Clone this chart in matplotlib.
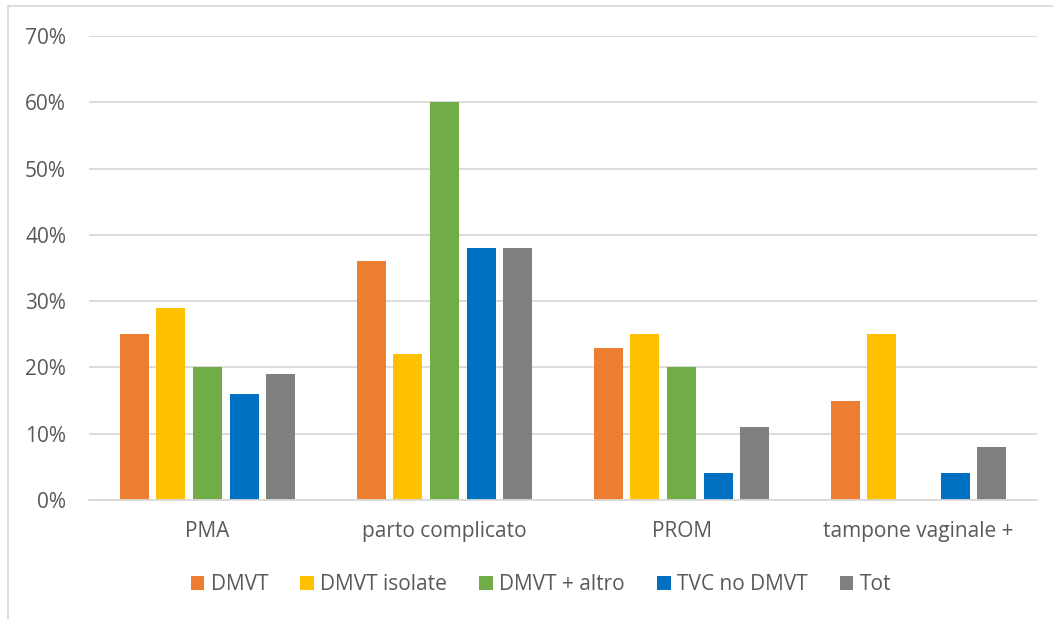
import matplotlib
matplotlib.use("Agg")
import matplotlib.pyplot as plt
from matplotlib.patches import Rectangle
import numpy as np

categories = ["PMA", "parto complicato", "PROM", "tampone vaginale +"]
series_names = ["DMVT", "DMVT isolate", "DMVT + altro", "TVC no DMVT", "Tot"]
dmvt = [25, 36, 23, 15]
dmvt_isolate = [29, 22, 25, 25]
dmvt_altro = [20, 60, 20, 0]
tvc_no_dmvt = [16, 38, 4, 4]
tot = [19, 38, 11, 8]
values = [dmvt, dmvt_isolate, dmvt_altro, tvc_no_dmvt, tot]
colors = ["#ED7D31", "#FFC000", "#70AD47", "#0070C0", "#808080"]
y_ticks = [0, 10, 20, 30, 40, 50, 60, 70]

plt.rcParams['font.family'] = ['Open Sans', 'DejaVu Sans']
text_color = "#595959"

fig = plt.figure(figsize=(10.53, 6.19), dpi=100)
ax = fig.add_axes([89 / 1053, 1 - 500 / 619, (1037 - 89) / 1053, (500 - 36) / 619])

x = np.arange(len(categories))
pitch = 0.1545
width = 0.122
for i, (name, vals, c) in enumerate(zip(series_names, values, colors)):
    offs = (i - 2) * pitch
    ax.bar(x + offs, vals, width=width, color=c, label=name, zorder=3)

ax.set_xlim(-0.5, len(categories) - 0.5)
ax.set_ylim(0, 70)
ax.set_yticks(y_ticks)
ax.set_yticklabels([f"{v}%" for v in y_ticks])
ax.set_xticks(x)
ax.set_xticklabels(categories)
ax.tick_params(axis='both', length=0, labelsize=15, colors=text_color)
ax.tick_params(axis='y', pad=16.5)
ax.tick_params(axis='x', pad=15)
ax.grid(axis='y', color="#D9D9D9", linewidth=1.3, zorder=0)
for s in ["top", "right", "left"]:
    ax.spines[s].set_visible(False)
ax.spines["bottom"].set_color("#D9D9D9")
ax.spines["bottom"].set_linewidth(1.3)
ax.spines["bottom"].set_zorder(4)

leg = ax.legend(loc="center", bbox_to_anchor=(541 / 1053, 1 - 585 / 619),
                bbox_transform=fig.transFigure, ncol=5, frameon=False,
                fontsize=15, handlelength=0.65, handleheight=0.65,
                handletextpad=0.3, columnspacing=1.55, labelcolor=text_color)

# chart border
fig.add_artist(Rectangle((8 / 1053, -0.01), 1.1, 1 - 6 / 619 + 0.01, transform=fig.transFigure,
                         fill=False, edgecolor="#D9D9D9", linewidth=1.3))

fig.savefig("out.png", dpi=100, facecolor="white")
